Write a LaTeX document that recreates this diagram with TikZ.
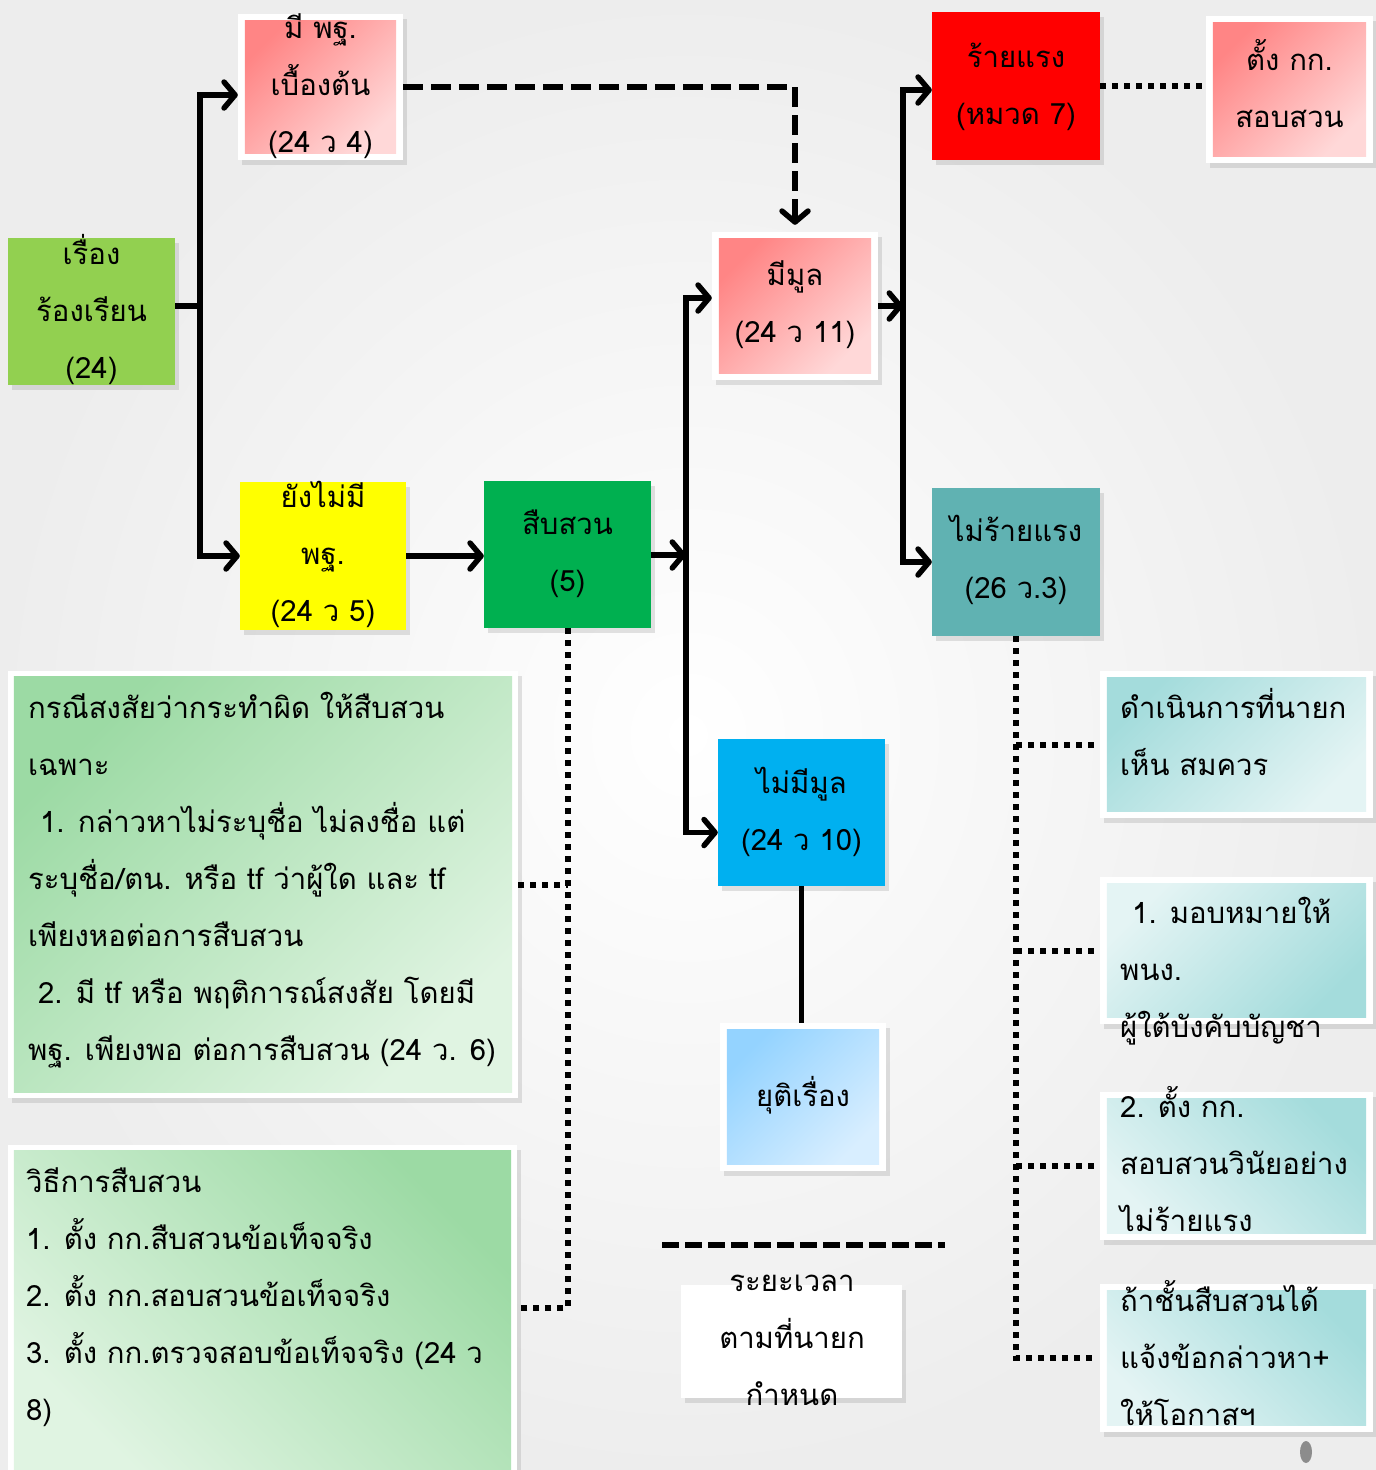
\documentclass[tikz,border=0pt]{standalone}
\usepackage{fontspec}
\setmainfont[Script=Thai]{Loma}
\usetikzlibrary{arrows.meta,shadows,calc}
\definecolor{gA}{HTML}{92D050}
\definecolor{gB}{HTML}{00B050}
\definecolor{yl}{HTML}{FFFF00}
\definecolor{rd}{HTML}{FF0000}
\definecolor{tl}{HTML}{60B2B2}
\definecolor{cy}{HTML}{00B0F0}
\definecolor{pkA}{HTML}{FF8585}
\definecolor{pkB}{HTML}{FFD8D8}
\definecolor{lbA}{HTML}{94D3FF}
\definecolor{lbB}{HTML}{D8EEFF}
\definecolor{lgA}{HTML}{9CDAA4}
\definecolor{lgB}{HTML}{E0F4E2}
\definecolor{ltA}{HTML}{A4DCDC}
\definecolor{ltB}{HTML}{E4F4F4}
\newcommand\bvl[3]{\shade[#3] ($(#1.north west)+(#2,#2)$) rectangle ($(#1.south east)+(-#2,-#2)$);}
\begin{document}
\begin{tikzpicture}[x=1pt,y=-1pt,
  box/.style={inner sep=0pt, draw=none, drop shadow={shadow xshift=4pt,shadow yshift=-5pt,opacity=0.22}},
  txt/.style={inner sep=0pt, align=center, font=\fontsize{29.3}{57}\selectfont},
  txtl/.style={txt, align=left, anchor=west},
  arr/.style={line width=5.5pt, -{Straight Barb[length=11pt,width=26pt,round]}},
  sol/.style={line width=5.5pt},
  dsh/.style={line width=5.5pt, dash pattern=on 20pt off 8pt},
  dtt/.style={line width=6pt, dash pattern=on 6pt off 6pt}]
\useasboundingbox (0,0) rectangle (1376,1470);
\shade[inner color=white, outer color=black!7] (0,0) rectangle (1376,1470);

% boxes
\node[box, fill=gA, minimum width=167, minimum height=147] (reu) at (91.5,311.5) {};
\node[box, fill=white, minimum width=165, minimum height=146] (p4) at (320.5,87) {};
\bvl{p4}{7}{top color=pkA, bottom color=pkB, shading angle=45}
\node[box, fill=yl, minimum width=166, minimum height=148] (p5) at (323,556) {};
\node[box, fill=gB, minimum width=167, minimum height=147] (s5) at (567.5,554.5) {};
\node[box, fill=white, minimum width=166, minimum height=148] (mm) at (795,306) {};
\bvl{mm}{7}{top color=pkA, bottom color=pkB, shading angle=45}
\node[box, fill=rd, minimum width=168, minimum height=148] (rr) at (1016,86) {};
\node[box, fill=white, minimum width=167, minimum height=147] (kk) at (1289.5,89.5) {};
\bvl{kk}{7}{top color=pkA, bottom color=pkB, shading angle=45}
\node[box, fill=tl, minimum width=168, minimum height=148] (nr) at (1016,562) {};
\node[box, fill=cy, minimum width=167, minimum height=147] (nm) at (801.5,812.5) {};
\node[box, fill=white, minimum width=166, minimum height=148] (yt) at (803,1097) {};
\bvl{yt}{7}{top color=lbA, bottom color=lbB, shading angle=45}
\node[box, fill=white, minimum width=510, minimum height=427] (L1) at (263,884.5) {};
\bvl{L1}{6}{top color=lgA, bottom color=lgB, shading angle=45}
\node[box, fill=white, minimum width=509, minimum height=330] (L2) at (262.5,1310) {};
\bvl{L2}{6}{top color=lgA, bottom color=lgB, shading angle=-45}
\node[box, fill=white, minimum width=273, minimum height=147] (R1) at (1236.5,744.5) {};
\bvl{R1}{7}{top color=ltA, bottom color=ltB, shading angle=45}
\node[box, fill=white, minimum width=273, minimum height=147] (R2) at (1236.5,950.5) {};
\bvl{R2}{7}{top color=ltB, bottom color=ltA, shading angle=45}
\node[box, fill=white, minimum width=273, minimum height=148] (R3) at (1236.5,1166) {};
\bvl{R3}{7}{top color=ltA, bottom color=ltB, shading angle=-45}
\node[box, fill=white, minimum width=273, minimum height=148] (R4) at (1236.5,1358) {};
\bvl{R4}{7}{top color=ltA, bottom color=ltB, shading angle=-45}
\node[box, fill=white, minimum width=221, minimum height=113] (tm) at (791.5,1341.5) {};

% texts
\node[txt] (reuT) at (91.5,310) {เรื่อง\\ร้องเรียน\\(24)};
\node[txt] (p4T) at (320.5,86.5) {มี พฐ.\\เบื้องต้น\\(24 ว 4)};
\node[txt] (p5T) at (323,554) {ยังไม่มี\\พฐ.\\(24 ว 5)};
\node[txt] (s5T) at (567.5,553.5) {สืบสวน\\(5)};
\node[txt] (mmT) at (795,305) {มีมูล\\(24 ว 11)};
\node[txt] (rrT) at (1016,86.5) {ร้ายแรง\\(หมวด 7)};
\node[txt] (kkT) at (1289.5,84) {ตั้ง กก.\\สอบสวน};
\node[txt] (nrT) at (1016,560) {ไม่ร้ายแรง\\(26 ว.3)};
\node[txt] (nmT) at (801.5,812) {ไม่มีมูล\\(24 ว 10)};
\node[txt] (ytT) at (803,1095) {ยุติเรื่อง};
\node[txtl] (L1T) at (28,880) {กรณีสงสัยว่ากระทำผิด ให้สืบสวน\\เฉพาะ\\\hspace*{12pt}1. กล่าวหาไม่ระบุชื่อ ไม่ลงชื่อ แต่\\ระบุชื่อ/ตน. หรือ tf ว่าผู้ใด และ tf\\เพียงหอต่อการสืบสวน\\\hspace*{10pt}2. มี tf หรือ พฤติการณ์สงสัย โดยมี\\พฐ. เพียงพอ ต่อการสืบสวน (24 ว. 6)};
\node[txtl] (L2T) at (26,1297) {วิธีการสืบสวน\\1. ตั้ง กก.สืบสวนข้อเท็จจริง\\2. ตั้ง กก.สอบสวนข้อเท็จจริง\\3. ตั้ง กก.ตรวจสอบข้อเท็จจริง (24 ว\\8)};
\node[txtl] (R1T) at (1120,732) {ดำเนินการที่นายก\\เห็น สมควร};
\node[txtl] (R2T) at (1120,971) {\hspace*{12pt}1. มอบหมายให้\\พนง.\\ผู้ใต้บังคับบัญชา};
\node[txtl] (R3T) at (1120,1159) {2. ตั้ง กก.\\สอบสวนวินัยอย่าง\\ไม่ร้ายแรง};
\node[txtl] (R4T) at (1120,1353) {ถ้าชั้นสืบสวนได้\\แจ้งข้อกล่าวหา+\\ให้โอกาสฯ};
\node[txt] (tmT) at (792,1340) {ระยะเวลา\\ตามที่นายก\\กำหนด};

% connectors
\coordinate (j1) at (200,306);
\draw[sol] (reu.east |- j1) -- (j1);
\draw[arr] (j1) |- ($(p4.west)+(0,8)$);
\draw[arr] (j1) |- (p5.west);
\draw[arr] (p5.east) -- (p5.east -| s5.west);
\coordinate (j2) at (686,555);
\draw[arr] (s5.east |- j2) -- (j2);
\draw[arr] (j2) |- ($(mm.west)+(0,-8)$);
\draw[arr] (j2) |- ($(nm.west)+(0,20)$);
\coordinate (j3) at (903,306);
\draw[arr] (mm.east |- j3) -- (j3);
\draw[arr] (j3) |- ($(rr.west)+(0,4)$);
\draw[arr] (j3) |- (nr.west);
\draw[dsh, -{Straight Barb[length=11pt,width=26pt,round]}] (p4.east) -- (p4.east -| mm.north) -- ($(mm.north)+(0,-7)$);
\draw[dtt] (rr.east) -- (rr.east -| kk.west);
\draw[sol] (nm.south) -- (nm.south |- yt.north);
\coordinate (d1) at (567.5,1308);
\draw[dtt] (s5.south) -- (d1) -- (d1 -| L2.east);
\draw[dtt] (L1.east) -- (L1.east -| s5.south);
\coordinate (d2) at (1016,1358);
\draw[dtt] (nr.south) -- (d2) -- ($(R4.west)+(-5,0)$);
\draw[dtt] (nr.south |- R1.west) -- ($(R1.west)+(-5,0)$);
\draw[dtt] (nr.south |- R2.west) -- ($(R2.west)+(-5,0)$);
\draw[dtt] (nr.south |- R3.west) -- ($(R3.west)+(-5,0)$);
\coordinate (e1) at (662,1245);
\coordinate (e2) at (945,1245);
\draw[dsh, dash pattern=on 17pt off 6pt] (e1) -- (e2);
\fill[black!45] (1306,1452) ellipse (6 and 11);
\end{tikzpicture}
\end{document}
